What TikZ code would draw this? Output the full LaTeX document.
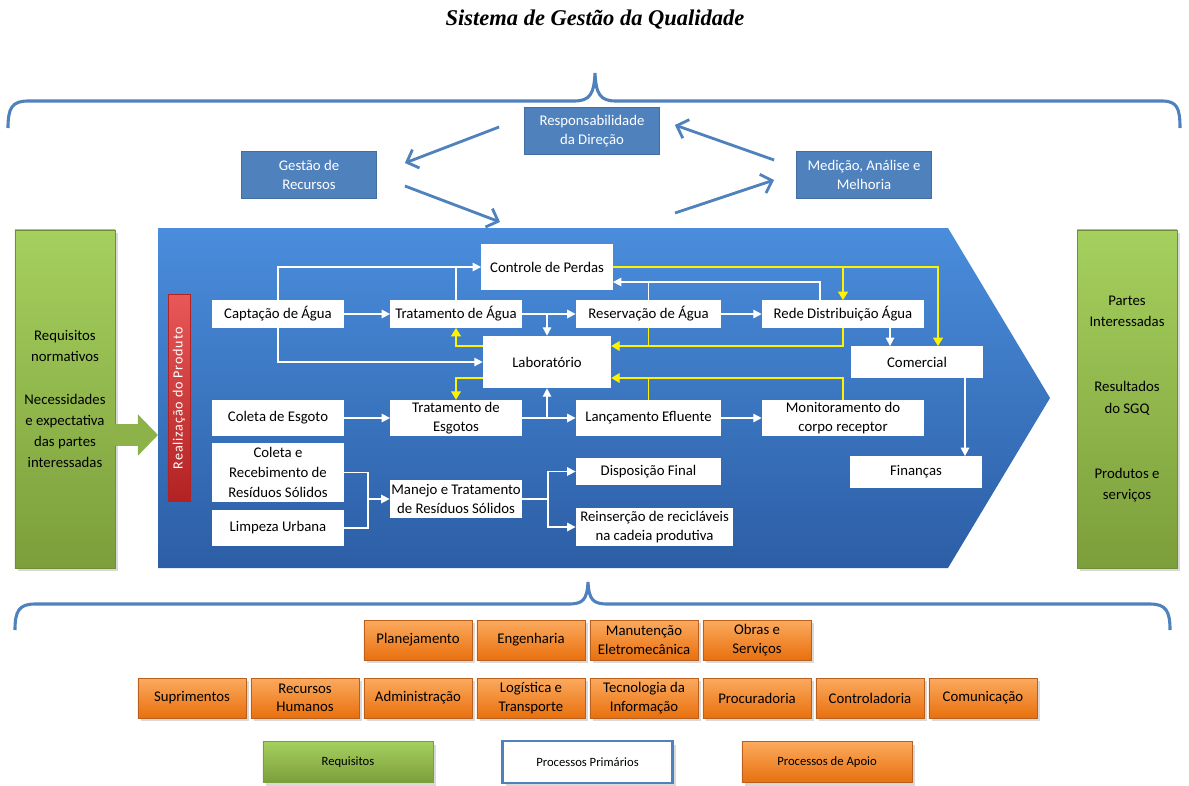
\documentclass[tikz,border=0pt]{standalone}
\usepackage{fontspec}
\setmainfont{Carlito}
\newfontfamily\titlefont{Liberation Serif}
\usetikzlibrary{arrows.meta,calc,shadows}

\definecolor{qblue}{HTML}{4F81BD}
\definecolor{bandtop}{HTML}{4A8DDC}
\definecolor{bandbot}{HTML}{2C5EA5}
\definecolor{reqtop}{HTML}{A5D05E}
\definecolor{reqbot}{HTML}{7C9E3B}
\definecolor{apoiotop}{HTML}{FBAA5E}
\definecolor{apoiobot}{HTML}{E8700E}
\definecolor{apoioline}{HTML}{B9601E}
\definecolor{rptop}{HTML}{E85858}
\definecolor{rpbot}{HTML}{B22222}

\begin{document}
\begin{tikzpicture}[x=0.025cm,y=-0.025cm]

\def\colstep{113}

\tikzstyle{proc}=[rectangle,fill=white,inner sep=1pt,align=center,font=\fontsize{10.5}{14}\selectfont,minimum width=3.28cm,minimum height=0.68cm]
\tikzstyle{mgmt}=[rectangle,fill=qblue,draw=qblue!85!black,text=white,align=center,font=\fontsize{10.5}{14}\selectfont,minimum width=3.38cm,minimum height=1.18cm]
\tikzstyle{reqbox}=[rectangle,top color=reqtop,bottom color=reqbot,draw=reqbot!90!black,align=center,font=\fontsize{10.5}{15}\selectfont,minimum width=2.5cm,minimum height=8.45cm,drop shadow={opacity=0.3}]
\tikzstyle{apoio}=[rectangle,top color=apoiotop,bottom color=apoiobot,draw=apoioline,align=center,font=\fontsize{10.5}{13}\selectfont,minimum width=2.7cm,minimum height=1cm,inner sep=1pt,drop shadow={opacity=0.3}]
\tikzstyle{legendbox}=[rectangle,align=center,font=\fontsize{9}{11}\selectfont,minimum width=4.25cm,minimum height=1.03cm,drop shadow={opacity=0.3}]
\tikzstyle{flow}=[draw=white,line width=1pt,-{Triangle[length=6pt,width=6pt]}]
\tikzstyle{wline}=[draw=white,line width=1pt]
\tikzstyle{yflow}=[draw=yellow,line width=1pt,-{Triangle[length=6pt,width=7pt]}]
\tikzstyle{yline}=[draw=yellow,line width=1pt]
\tikzstyle{pdca}=[draw=qblue,line width=2pt,-{Straight Barb[length=7pt,width=14pt]}]
\tikzstyle{sgqbrace}=[draw=qblue,line width=2.2pt]

\useasboundingbox (0,0) rectangle (1189,785);

%title
\node[font=\titlefont\fontsize{16}{18}\selectfont\bfseries\itshape] (title) at (595,20) {Sistema de Gestão da Qualidade};

%braces
\draw[sgqbrace] (8,128) .. controls (8,108) and (12,101) .. (28,101) -- (574,101) .. controls (590,101) and (594,94) .. (595,73) .. controls (596,94) and (600,101) .. (616,101) -- (1162,101) .. controls (1177,101) and (1180,108) .. (1180,128);
\draw[sgqbrace] (15,630) .. controls (15,611) and (19,604) .. (35,604) -- (568,604) .. controls (583,604) and (587,600) .. (588,582) .. controls (589,600) and (593,604) .. (608,604) -- (1150,604) .. controls (1166,604) and (1170,611) .. (1170,630);

%management
\node[mgmt] (resp) at (592,131) {Responsabilidade\\da Direção};
\node[mgmt] (gestao) at (309,175) {Gestão de\\Recursos};
\node[mgmt] (medicao) at (864,175) {Medição, Análise e\\Melhoria};

% product band
\shade[top color=bandtop,bottom color=bandbot] (158,228) -- (948,228) -- (1050,398) -- (948,568) -- (158,568) -- cycle;
\coordinate (bandw) at (158,435);
\coordinate (bandin) at (500,222);
\coordinate (bandout) at (675,213);

%cycle
\draw[pdca] ($(resp.west)+(-25,-4)$) -- ($(gestao.east)+(28,-12)$);
\draw[pdca] ($(gestao.east)+(28,11)$) -- (bandin);
\draw[pdca] (bandout) -- ($(medicao.west)+(-22,5)$);
\draw[pdca] ($(medicao.west)+(-22,-15)$) -- ($(resp.east)+(15,-6)$);

%requirements and results
\node[reqbox] (reqin) at (65,399) {Requisitos\\normativos\\[0.55cm]Necessidades\\e expectativa\\das partes\\interessadas};
\node[reqbox] (reqout) at (1127,399) {Partes\\Interessadas\\[1.1cm]Resultados\\do SGQ\\[1.1cm]Produtos e\\serviços};
\draw[draw=reqbot!60!reqtop,line width=0.55cm,-{Triangle[length=0.5cm,width=1cm]}] ($(reqin.east)+(0,36)$) -- (bandw);

\node[rectangle,rotate=90,top color=rptop,bottom color=rpbot,draw=rpbot,text=white,minimum width=5.18cm,minimum height=0.55cm,inner sep=0pt,font=\fontsize{10}{12}\selectfont\addfontfeature{LetterSpace=6}] (realiz) at (179,398) {Realização do Produto};

%water
\node[proc,minimum height=1.13cm] (perdas) at (547,267) {Controle de Perdas};
\node[proc] (capt) at (278,314) {Captação de Água};
\node[proc] (tagua) at (456,314) {Tratamento de Água};
\node[proc,minimum width=3.63cm] (reserv) at (648.5,314) {Reservação de Água};
\node[proc,minimum width=4.05cm] (rede) at (843,314) {Rede Distribuição Água};
\node[proc,minimum width=3.2cm,minimum height=1.3cm] (lab) at (547,362) {Laboratório};
\node[proc,minimum height=0.78cm] (com) at (917,362) {Comercial};

%sewage
\node[proc,minimum height=0.9cm] (cesg) at (278,418) {Coleta de Esgoto};
\node[proc,minimum height=0.9cm] (tesg) at (456,418) {Tratamento de\\Esgotos};
\node[proc,minimum width=3.63cm,minimum height=0.9cm] (lanc) at (648.5,418) {Lançamento Efluente};
\node[proc,minimum width=4.05cm,minimum height=0.9cm] (monit) at (843,418) {Monitoramento do\\corpo receptor};
\node[proc,minimum height=0.78cm] (fin) at (916,472) {Finanças};

%solid waste
\node[proc,minimum height=1.48cm] (cres) at (278,472.5) {Coleta e\\Recebimento de\\Resíduos Sólidos};
\node[proc,minimum height=0.9cm] (limp) at (278,528) {Limpeza Urbana};
\node[proc,minimum height=0.95cm] (manejo) at (456,499) {Manejo e Tratamento\\de Resíduos Sólidos};
\node[proc,minimum width=3.63cm] (disp) at (648.5,471.5) {Disposição Final};
\node[proc,minimum width=3.93cm,minimum height=0.95cm,inner sep=0.5pt] (reins) at (654.5,527) {Reinserção de recicláveis\\na cadeia produtiva};

%connections water
\draw[flow] (capt) -- (tagua);
\draw[flow] (tagua) -- (reserv);
\draw[flow] (reserv) -- (rede);
\draw[flow] (capt.north) |- (perdas.west);
\draw[wline] (tagua.north) -- (tagua.north |- perdas.west);
\draw[flow] (capt.south) |- (lab.west);
\draw[flow] (tagua.east -| lab.north) -- (lab.north);
\draw[flow] ($(rede.north)+(-23,0)$) |- ($(perdas.east)+(0,15)$);
\draw[wline] (reserv.north) -- ($(reserv.north)+(0,-18)$);
\draw[flow] ($(rede.south)+(47,0)$) -- ($(com.north)+(-27,0)$);
\draw[flow] ($(com.south)+(48,0)$) -- ($(fin.north)+(49,0)$);

%connections sewage
\draw[flow] (cesg) -- (tesg);
\draw[flow] (tesg) -- (lanc);
\draw[flow] (tesg.east -| lab.south) -- (lab.south);
\draw[flow] (lanc) -- (monit);

%connections solid waste
\coordinate (jres) at (368,499);
\coordinate (jman) at (548,499);
\draw[wline] (cres.east) -| (jres);
\draw[wline] (limp.east) -| (jres);
\draw[flow] (jres) -- (manejo.west);
\draw[wline] (manejo.east) -- (jman);
\draw[flow] (jman) |- (disp.west);
\draw[flow] (jman) |- (reins.west);

% quality feedback
\coordinate (labne) at ($(lab.east)+(0,-16)$);
\coordinate (labse) at ($(lab.east)+(0,16)$);
\coordinate (labnw) at ($(lab.west)+(0,-16)$);
\coordinate (labsw) at ($(lab.west)+(0,16)$);
\draw[yflow] (perdas.east) -| (rede.north);
\draw[yflow] (perdas.east) -| ($(com.north)+(21,0)$);
\draw[yflow] (rede.south) |- (labne);
\draw[yline] (reserv.south) -- (reserv.south |- labne);
\draw[yflow] (monit.north) |- (labse);
\draw[yline] (lanc.north) -- (lanc.north |- labse);
\draw[yflow] (labnw) -| (tagua.south);
\draw[yflow] (labsw) -| (tesg.north);

%support processes
\node[apoio] (plan) at (192+2*\colstep,640) {Planejamento};
\node[apoio] (eng) at (192+3*\colstep,640) {Engenharia};
\node[apoio] (manut) at (192+4*\colstep,640) {Manutenção\\Eletromecânica};
\node[apoio] (obras) at (192+5*\colstep,640) {Obras e\\Serviços};
\node[apoio] (supr) at (192,698) {Suprimentos};
\node[apoio] (rh) at (192+1*\colstep,698) {Recursos\\Humanos};
\node[apoio] (adm) at (192+2*\colstep,698) {Administração};
\node[apoio] (log) at (192+3*\colstep,698) {Logística e\\Transporte};
\node[apoio] (ti) at (192+4*\colstep,698) {Tecnologia da\\Informação};
\node[apoio] (proc) at (192+5*\colstep,698) {Procuradoria};
\node[apoio] (contr) at (192+6*\colstep,698) {Controladoria};
\node[apoio] (comun) at (192+7*\colstep,698) {Comunicação};

%legend
\node[legendbox,top color=reqtop,bottom color=reqbot,draw=reqbot] (lreq) at (348,762) {Requisitos};
\node[legendbox,fill=white,draw=qblue,line width=1.5pt] (lprim) at (587.5,762) {Processos Primários};
\node[legendbox,top color=apoiotop,bottom color=apoiobot,draw=apoioline] (lapoio) at (827,762) {Processos de Apoio};

\end{tikzpicture}
\end{document}
